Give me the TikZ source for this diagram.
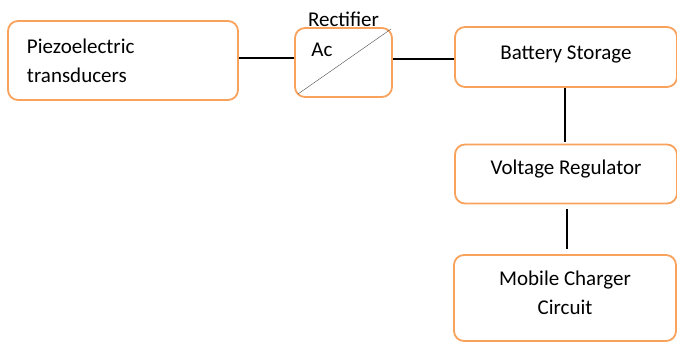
\documentclass[tikz,border=0pt]{standalone}
\usepackage{fontspec}
\setmainfont{Carlito}
\usepackage{tikz}
\usetikzlibrary{positioning}
\definecolor{boxorange}{RGB}{248,162,92}
\tikzstyle{block} = [draw=boxorange, line width=1.8pt, rounded corners=10pt, fill=white, font=\fontsize{21}{29}\selectfont]
\tikzstyle{wire} = [line width=2.8pt, color=black]
\newcommand{\lifted}[2]{\raisebox{#1}[\height][\depth]{#2}}

\begin{document}
\begin{tikzpicture}[x=1pt, y=-1pt]
\useasboundingbox (0,0) rectangle (677,343);
% Source blocks
\node[block, minimum width=230pt, minimum height=79pt, text width=192pt, inner xsep=19pt, align=left] (piezo) at (123,60.5) {Piezoelectric\\transducers};
\node[block, minimum width=97pt, minimum height=69pt] (rect) at (343.5,62.5) {};
\node[font=\fontsize{21}{24}\selectfont, above=-3pt of rect] (rectlabel) {Rectifier};
\node[font=\fontsize{21}{24}\selectfont] (ac) at (322,50) {Ac};
\draw[thin, color=black!70] ([shift={(4pt,4pt)}]rect.south west) -- ([shift={(-2pt,-2pt)}]rect.north east);

% Output chain
\node[block, minimum width=222pt, minimum height=60pt] (battery) at (566,57) {\lifted{3pt}{Battery Storage}};
\node[block, minimum width=222pt, minimum height=59pt] (regulator) at (566,174) {\lifted{5pt}{Voltage Regulator}};
\node[block, minimum width=222pt, minimum height=86pt] (mobile) at (565,298) {\lifted{3.5pt}{\begin{tabular}{@{}c@{}}Mobile Charger\\Circuit\end{tabular}}};

% Wires
\draw[wire] (piezo.east |- 0,58) -- (rect.west |- 0,58);
\draw[wire] (rect.east |- 0,59) -- (battery.west |- 0,59);
\draw[wire, shorten >=2pt] (battery.south -| 565,0) -- (regulator.north -| 565,0);
\draw[wire, shorten <=5pt, shorten >=5pt] (regulator.south -| 567,0) -- (mobile.north -| 567,0);
\end{tikzpicture}
\end{document}
